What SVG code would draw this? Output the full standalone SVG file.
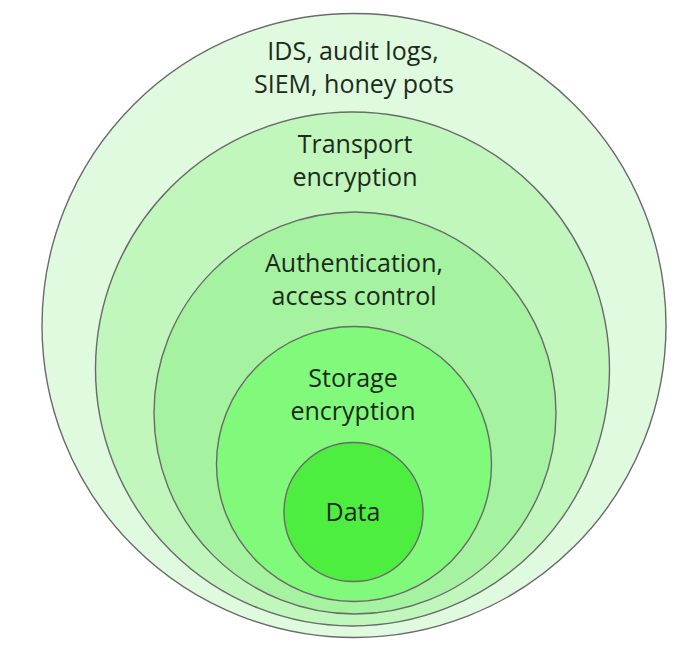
<svg xmlns="http://www.w3.org/2000/svg" width="700" height="646" viewBox="0 0 700 646">
<style>
  .ring { stroke: #6a6a6a; stroke-width: 1.4; }
  .lbl { font-family: "Open Sans", "Noto Sans", "DejaVu Sans", sans-serif; font-size: 25px; fill: #1c2a1c; text-anchor: middle; }
</style>
<rect width="700" height="646" fill="#ffffff"/>
<g id="node-detection">
  <circle class="ring" cx="354" cy="325.5" r="312" fill="#dffade"/>
  <text class="lbl" x="353" y="60">IDS, audit logs,</text>
  <text class="lbl" x="354" y="93">SIEM, honey pots</text>
</g>
<g id="node-transport">
  <circle class="ring" cx="352.5" cy="369" r="257" fill="#c1f6bc"/>
  <text class="lbl" x="355" y="153">Transport</text>
  <text class="lbl" x="355" y="186">encryption</text>
</g>
<g id="node-auth">
  <circle class="ring" cx="355" cy="413" r="201" fill="#a5f2a0"/>
  <text class="lbl" x="354" y="272">Authentication,</text>
  <text class="lbl" x="354" y="305">access control</text>
</g>
<g id="node-storage">
  <circle class="ring" cx="354" cy="464" r="137.5" fill="#81f97b"/>
  <text class="lbl" x="353" y="387">Storage</text>
  <text class="lbl" x="353" y="420">encryption</text>
</g>
<g id="node-data">
  <circle class="ring" cx="353.5" cy="512" r="69.5" fill="#4eee40"/>
  <text class="lbl" x="353" y="521">Data</text>
</g>
<g id="connectors"></g>
</svg>
